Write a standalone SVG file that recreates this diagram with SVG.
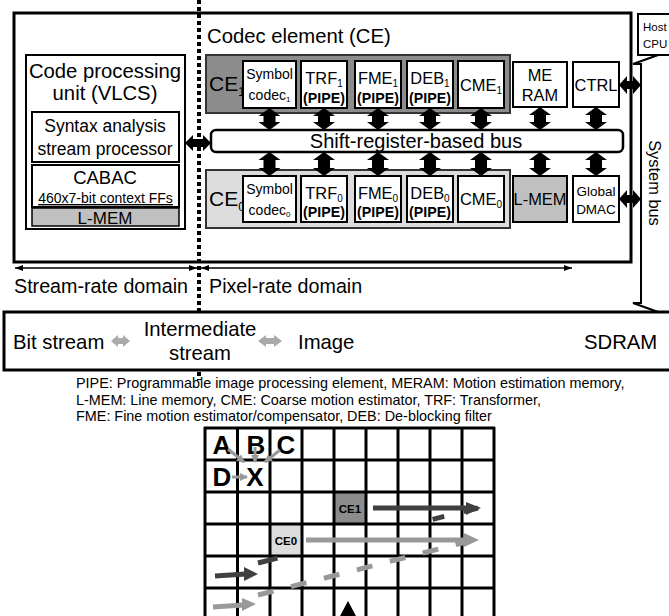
<svg xmlns="http://www.w3.org/2000/svg" width="669" height="616" viewBox="0 0 669 616">
<style>
text{font-family:"Liberation Sans",Arial,sans-serif;fill:#000}
.box{fill:#fff;stroke:#000;stroke-width:2}
.thick{fill:#fff;stroke:#000;stroke-width:3}
.t16{font-size:16.4px}
.t13{font-size:14px}
.b13{font-size:14.2px;font-weight:bold}
.c{text-anchor:middle}
.big{font-size:20.3px}
.barrow{fill:#000}
.garrow{fill:#aaa}
.grid line{stroke:#000;stroke-width:3}
.lt{font-size:26px;font-weight:bold;text-anchor:middle}
</style>
<defs>
<marker id="thin" markerWidth="8" markerHeight="6" refX="8" refY="3" orient="auto-start-reverse" markerUnits="userSpaceOnUse"><path d="M0,0 L8,3 L0,6 Z" fill="#000"/></marker>
<marker id="ga" markerWidth="8" markerHeight="8" refX="7" refY="4" orient="auto" markerUnits="userSpaceOnUse"><path d="M0,0 L8,4 L0,8 Z" fill="#999"/></marker>
</defs>

<g id="systembus">
<path d="M641,64 L633,64 L700,40 L767,64 L759,64 L759,303 L767,303 L700,327 L633,303 L641,303 Z" fill="#fff" stroke="#000" stroke-width="2"/>
<text font-size="16.4" transform="translate(649,183) rotate(90)" text-anchor="middle">System bus</text>
</g>

<g id="hostcpu">
<rect x="638" y="14" width="60" height="41" class="box"/>
<text x="643" y="31" font-size="11.5">Host</text>
<text x="643" y="48" font-size="11.5">CPU</text>
</g>

<g id="outer">
<rect x="14" y="13" width="617" height="249" class="thick"/>
<text x="207" y="43" class="big">Codec element (CE)</text>
</g>

<g id="vlcs">
<rect x="26" y="55" width="159" height="174" class="box"/>
<text x="105" y="78" class="big c">Code processing</text>
<text x="105" y="100" class="big c">unit (VLCS)</text>
<rect x="32" y="112" width="147" height="50" class="box"/>
<text x="105" y="132" font-size="17.5" class="c">Syntax analysis</text>
<text x="105" y="155" font-size="17.5" class="c">stream processor</text>
<rect x="32" y="165" width="147" height="42" class="box"/>
<text x="105" y="184" font-size="18.5" class="c">CABAC</text>
<text x="105.5" y="203" font-size="14" class="c" text-decoration="underline">460x7-bit context FFs</text>
<rect x="32" y="208" width="147" height="18" fill="#c0c0c0" stroke="#000" stroke-width="1.5"/>
<text x="105" y="224" font-size="17" class="c">L-MEM</text>
</g>

<g id="ce1">
<rect x="206" y="55" width="304" height="58" fill="#8c8c8c" stroke="#333" stroke-width="2"/>
<text x="209" y="91" font-size="21">CE<tspan font-size="12" dy="5">1</tspan></text>
</g>
<g id="ce0">
<rect x="206" y="170" width="304" height="58" fill="#dcdcdc" stroke="#333" stroke-width="2"/>
<text x="209" y="206" font-size="21">CE<tspan font-size="12" dy="5">0</tspan></text>
</g>

<g id="symbol1"><rect x="243" y="61" width="53" height="47" class="box"/>
<text x="269.5" y="79" class="t13 c">Symbol</text><text x="269.5" y="100" class="t13 c">codec<tspan font-size="8" dy="2">1</tspan></text></g>
<g id="trf1"><rect x="301" y="61" width="46" height="47" class="box"/>
<text x="324" y="84" class="t16 c">TRF<tspan font-size="10" dy="3">1</tspan></text><text x="324" y="103" class="b13 c">(PIPE)</text></g>
<g id="fme1"><rect x="355" y="61" width="46" height="47" class="box"/>
<text x="378" y="84" class="t16 c">FME<tspan font-size="10" dy="3">1</tspan></text><text x="378" y="103" class="b13 c">(PIPE)</text></g>
<g id="deb1"><rect x="407" y="61" width="46" height="47" class="box"/>
<text x="430" y="84" class="t16 c">DEB<tspan font-size="10" dy="3">1</tspan></text><text x="430" y="103" class="b13 c">(PIPE)</text></g>
<g id="cme1"><rect x="458" y="61" width="46" height="47" class="box"/>
<text x="481" y="91" class="t16 c">CME<tspan font-size="10" dy="3">1</tspan></text></g>
<g id="meram"><rect x="513" y="62" width="54" height="45" class="box"/>
<text x="540" y="81" class="t16 c">ME</text><text x="540" y="101" class="t16 c">RAM</text></g>
<g id="ctrl"><rect x="573" y="62" width="46" height="45" class="box"/>
<text x="596" y="91" class="t16 c">CTRL</text></g>

<g id="symbol0"><rect x="243" y="176" width="53" height="46" class="box"/>
<text x="269.5" y="194" class="t13 c">Symbol</text><text x="269.5" y="215" class="t13 c">codec<tspan font-size="8" dy="2">0</tspan></text></g>
<g id="trf0"><rect x="301" y="176" width="46" height="46" class="box"/>
<text x="324" y="199" class="t16 c">TRF<tspan font-size="10" dy="3">0</tspan></text><text x="324" y="217" class="b13 c">(PIPE)</text></g>
<g id="fme0"><rect x="355" y="176" width="46" height="46" class="box"/>
<text x="378" y="199" class="t16 c">FME<tspan font-size="10" dy="3">0</tspan></text><text x="378" y="217" class="b13 c">(PIPE)</text></g>
<g id="deb0"><rect x="407" y="176" width="46" height="46" class="box"/>
<text x="430" y="199" class="t16 c">DEB<tspan font-size="10" dy="3">0</tspan></text><text x="430" y="217" class="b13 c">(PIPE)</text></g>
<g id="cme0"><rect x="458" y="176" width="46" height="46" class="box"/>
<text x="481" y="205" class="t16 c">CME<tspan font-size="10" dy="3">0</tspan></text></g>
<g id="lmem"><rect x="513" y="176" width="54" height="46" fill="#c0c0c0" stroke="#000" stroke-width="2"/>
<text x="540" y="205" class="t16 c">L-MEM</text></g>
<g id="dmac"><rect x="573" y="176" width="46" height="46" class="box"/>
<text x="596" y="196" font-size="13.5" class="c">Global</text><text x="596" y="214" font-size="13.5" class="c">DMAC</text></g>

<g id="bus">
<rect x="211" y="130" width="412" height="22" rx="5" fill="#fff" stroke="#000" stroke-width="2.5"/>
<text x="416" y="148" font-size="20" class="c">Shift-register-based bus</text>
</g>

<g id="connectors">
<g class="barrow">
<path d="M269.5,108 l11,8 h-5 v6 h5 l-11,8 l-11,-8 h5 v-6 h-5 z"/>
<path d="M324,108 l11,8 h-5 v6 h5 l-11,8 l-11,-8 h5 v-6 h-5 z"/>
<path d="M378,108 l11,8 h-5 v6 h5 l-11,8 l-11,-8 h5 v-6 h-5 z"/>
<path d="M430,108 l11,8 h-5 v6 h5 l-11,8 l-11,-8 h5 v-6 h-5 z"/>
<path d="M481,108 l11,8 h-5 v6 h5 l-11,8 l-11,-8 h5 v-6 h-5 z"/>
<path d="M540,107 l11,8 h-5 v7 h5 l-11,8 l-11,-8 h5 v-7 h-5 z"/>
<path d="M596,107 l11,8 h-5 v7 h5 l-11,8 l-11,-8 h5 v-7 h-5 z"/>
<path d="M269.5,152 l11,8 h-5 v8 h5 l-11,8 l-11,-8 h5 v-8 h-5 z"/>
<path d="M324,152 l11,8 h-5 v8 h5 l-11,8 l-11,-8 h5 v-8 h-5 z"/>
<path d="M378,152 l11,8 h-5 v8 h5 l-11,8 l-11,-8 h5 v-8 h-5 z"/>
<path d="M430,152 l11,8 h-5 v8 h5 l-11,8 l-11,-8 h5 v-8 h-5 z"/>
<path d="M481,152 l11,8 h-5 v8 h5 l-11,8 l-11,-8 h5 v-8 h-5 z"/>
<path d="M540,152 l11,8 h-5 v8 h5 l-11,8 l-11,-8 h5 v-8 h-5 z"/>
<path d="M596,152 l11,8 h-5 v8 h5 l-11,8 l-11,-8 h5 v-8 h-5 z"/>
<path d="M185,143 l8,-8 v4 h10 v-4 l8,8 l-8,8 v-4 h-10 v4 z"/>
<path d="M619,85 l8,-9 v5 h6 v-5 l8,9 l-8,9 v-5 h-6 v5 z"/>
<path d="M619,199 l8,-9 v5 h6 v-5 l8,9 l-8,9 v-5 h-6 v5 z"/>
</g>
<line x1="15" y1="268" x2="197" y2="268" stroke="#000" stroke-width="1.5" marker-start="url(#thin)" marker-end="url(#thin)"/>
<line x1="201" y1="268" x2="572" y2="268" stroke="#000" stroke-width="1.5" marker-start="url(#thin)" marker-end="url(#thin)"/>
</g>

<g id="domains">
<text x="14" y="293" font-size="19.7">Stream-rate domain</text>
<text x="209" y="293" font-size="19.7">Pixel-rate domain</text>
</g>

<g id="sdram">
<rect x="4" y="312" width="680" height="58" class="thick"/>
<text x="13" y="349" font-size="20.3">Bit stream</text>
<text x="200" y="336" font-size="20.3" class="c">Intermediate</text>
<text x="200" y="360" font-size="20.3" class="c">stream</text>
<text x="298" y="349" font-size="20.3">Image</text>
<text x="584" y="349" font-size="20.3">SDRAM</text>
<path class="garrow" d="M111,341 l7,-6 v3 h5 v-3 l7,6 l-7,6 v-3 h-5 v3 z"/>
<path class="garrow" d="M258,341 l8,-6 v3 h8 v-3 l8,6 l-8,6 v-3 h-8 v3 z"/>
</g>

<line x1="199" y1="0" x2="199" y2="312" stroke="#000" stroke-width="4" stroke-dasharray="4 3"/>
<line x1="199" y1="372" x2="199" y2="380" stroke="#000" stroke-width="4" stroke-dasharray="4 3"/>

<g id="legend" font-size="14.4">
<text x="76" y="388">PIPE: Programmable image processing element, MERAM: Motion estimation memory,</text>
<text x="76" y="405">L-MEM: Line memory, CME: Coarse motion estimator, TRF: Transformer,</text>
<text x="76" y="421">FME: Fine motion estimator/compensator, DEB: De-blocking filter</text>
</g>

<g id="grid">
<rect x="334" y="492" width="32" height="32" fill="#8c8c8c"/>
<rect x="270" y="524" width="32" height="32" fill="#dcdcdc"/>
<g class="grid">
<line x1="205" y1="427" x2="205" y2="616"/><line x1="237.5" y1="427" x2="237.5" y2="616"/>
<line x1="270" y1="427" x2="270" y2="616"/><line x1="302" y1="427" x2="302" y2="616"/>
<line x1="334" y1="427" x2="334" y2="616"/><line x1="366" y1="427" x2="366" y2="616"/>
<line x1="398" y1="427" x2="398" y2="616"/><line x1="430" y1="427" x2="430" y2="616"/>
<line x1="462" y1="427" x2="462" y2="616"/><line x1="494" y1="427" x2="494" y2="616"/>
<line x1="204" y1="428" x2="495" y2="428"/><line x1="204" y1="460" x2="495" y2="460"/>
<line x1="204" y1="492" x2="495" y2="492"/><line x1="204" y1="524" x2="495" y2="524"/>
<line x1="204" y1="556" x2="495" y2="556"/><line x1="204" y1="588" x2="495" y2="588"/>
</g>
<text x="222" y="454" class="lt">A</text>
<text x="256" y="454" class="lt">B</text>
<text x="286" y="454" class="lt">C</text>
<text x="222" y="486" class="lt">D</text>
<text x="255" y="486" class="lt">X</text>
<text x="350" y="513" font-size="11.5" font-weight="bold" class="c">CE1</text>
<text x="286" y="545" font-size="11.5" font-weight="bold" class="c">CE0</text>
<g stroke="#999" stroke-width="3">
<line x1="228" y1="449" x2="244" y2="462" marker-end="url(#ga)"/>
<line x1="255" y1="447" x2="255" y2="462" marker-end="url(#ga)"/>
<line x1="280" y1="450" x2="265" y2="462" marker-end="url(#ga)"/>
<line x1="232" y1="477" x2="247" y2="477" marker-end="url(#ga)"/>
</g>
<line x1="258" y1="595" x2="470" y2="541" stroke="#999" stroke-width="5" stroke-dasharray="16 18"/>
<line x1="258" y1="563" x2="478" y2="508" stroke="#404040" stroke-width="5" stroke-dasharray="20 160 12 20"/>
<line x1="373" y1="508" x2="468" y2="508" stroke="#404040" stroke-width="5"/>
<path d="M466,502 L481,508 L466,515 Z" fill="#404040"/>
<line x1="306" y1="540" x2="466" y2="540" stroke="#999" stroke-width="5"/>
<path d="M464,533 L479,540 L464,547 Z" fill="#999"/>
<line x1="215" y1="576" x2="246" y2="574" stroke="#404040" stroke-width="5"/>
<path d="M244,567 L258,574 L244,581 Z" fill="#404040"/>
<line x1="213" y1="607" x2="244" y2="605" stroke="#999" stroke-width="5"/>
<path d="M242,598 L256,604 L242,611 Z" fill="#999"/>
<path d="M348,601 L356,616 L340,616 Z" fill="#000"/>
</g>
</svg>
